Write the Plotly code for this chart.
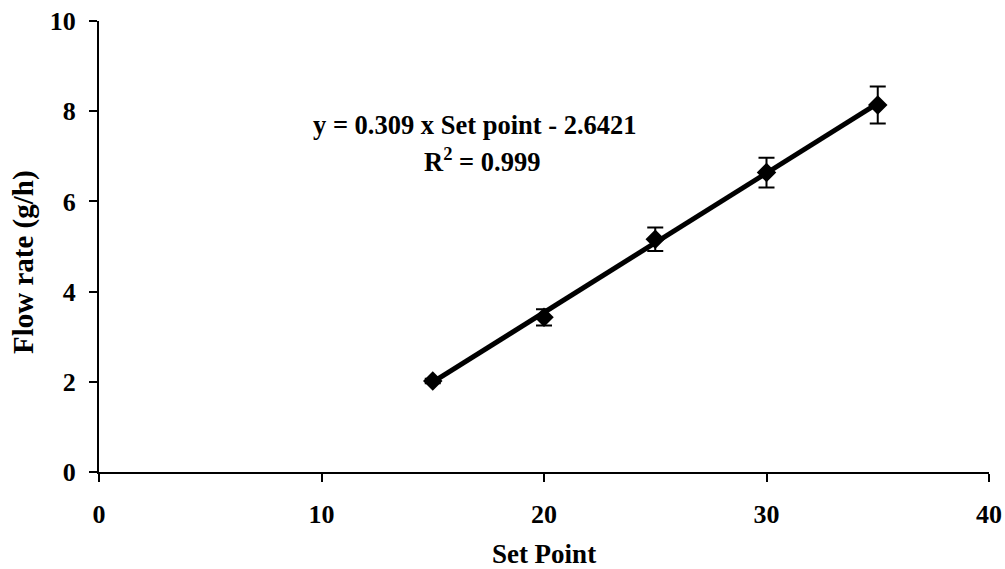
import plotly.graph_objects as go

set_point = [15, 20, 25, 30, 35]
flow_rate = [2.02, 3.43, 5.16, 6.64, 8.14]
flow_err = [0.05, 0.18, 0.26, 0.33, 0.41]
slope = 0.309
intercept = -2.6421
x_ticks = [0, 10, 20, 30, 40]
y_ticks = [0, 2, 4, 6, 8, 10]

fit_x = [set_point[0], set_point[-1]]
fit_y = [slope * v + intercept for v in fit_x]

tick_font = dict(family="Liberation Serif", size=26, color="black")
title_font = dict(family="Liberation Serif", size=27, color="black")
ytitle_font = dict(family="Liberation Serif", size=29, color="black")
ann_font = dict(family="Liberation Serif", size=26.5, color="black")

fig = go.Figure()
fig.add_trace(go.Scatter(x=fit_x, y=fit_y, mode="lines",
                         line=dict(color="black", width=5), showlegend=False))
fig.add_trace(go.Scatter(x=set_point, y=flow_rate, mode="markers",
                         marker=dict(symbol="diamond", size=15, color="black"),
                         error_y=dict(type="data", array=flow_err, visible=True,
                                      color="black", thickness=2, width=8),
                         showlegend=False))

W, H = 1005, 569
L, R, T, B = 99, 16, 21, 97
pw, ph = W - L - R, H - T - B


def px_to_paper(x, y):
    return (x - L) / pw, 1 - (y - T) / ph


ax1, ay1 = px_to_paper(475, 125)
ax2, ay2 = px_to_paper(482, 160)
ax3, ay3 = px_to_paper(23, 262)
fig.add_annotation(x=ax1, y=ay1, xref="paper", yref="paper",
                   xanchor="center", yanchor="middle",
                   text="<b>y = 0.309 x Set point - 2.6421</b>",
                   showarrow=False, font=ann_font)
fig.add_annotation(x=ax2, y=ay2, xref="paper", yref="paper",
                   xanchor="center", yanchor="middle",
                   text="<b>R<sup>2</sup> = 0.999</b>",
                   showarrow=False, font=ann_font)
fig.add_annotation(x=ax3, y=ay3, xref="paper", yref="paper",
                   xanchor="center", yanchor="middle",
                   text="<b>Flow rate (g/h)</b>", textangle=-90,
                   showarrow=False, font=ytitle_font)

fig.update_layout(
    width=W, height=H,
    margin=dict(l=L, r=R, t=T, b=B, autoexpand=False),
    plot_bgcolor="white", paper_bgcolor="white",
    font=tick_font,
    xaxis=dict(range=[0, 40], tickvals=x_ticks, ticktext=[f"<b>{v}</b>" for v in x_ticks],
               showgrid=False, zeroline=False, showline=True, linecolor="black", linewidth=2,
               ticks="outside", ticklen=8, tickwidth=2, tickcolor="black",
               ticklabelstandoff=10, ticklabeloverflow="allow", automargin=False,
               title=dict(text="<b>Set Point</b>", font=title_font, standoff=20)),
    yaxis=dict(range=[0, 10], tickvals=y_ticks, ticktext=[f"<b>{v}</b>" for v in y_ticks],
               showgrid=False, zeroline=False, showline=True, linecolor="black", linewidth=2,
               ticks="outside", ticklen=8, tickwidth=2, tickcolor="black",
               ticklabelstandoff=8, ticklabeloverflow="allow", automargin=False),
)

fig.write_html("out.html", config={"displayModeBar": False},
               post_script="document.body.style.margin='0';document.body.style.overflow='hidden';")
